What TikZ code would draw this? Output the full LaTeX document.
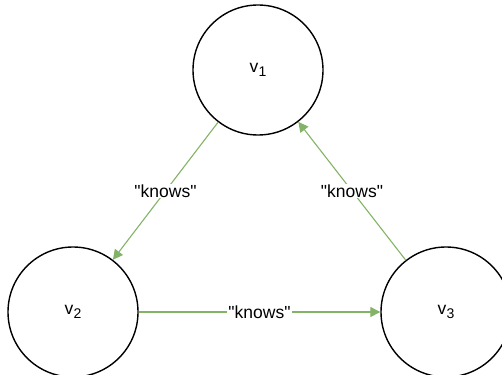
\documentclass[tikz,border=0pt]{standalone}
\usepackage{fontspec}
\setmainfont[Ligatures=TeXOff]{Liberation Sans}
\usetikzlibrary{arrows.meta}
\definecolor{edgegreen}{HTML}{82B366}
\tikzset{
  vertex/.style={circle, draw=black, line width=1.4pt, minimum size=130pt, inner sep=0pt, font=\fontsize{17.5}{17.5}\selectfont},
  rel/.style={draw=edgegreen, line width=1.1pt, -{Triangle[length=10pt,width=10pt]}},
  lbl/.style={fill=white, inner sep=1pt, font=\fontsize{17.5}{17.5}\selectfont}
}
\newcommand{\vsub}[1]{v\kern0.3pt\raisebox{-4.5pt}{\fontsize{14}{14}\selectfont #1}}
\begin{document}
\begin{tikzpicture}[x=1pt,y=-1pt]
\useasboundingbox (0,0) rectangle (502,374);
\node[vertex] (v1) at (258,70) {\vsub{1}};
\node[vertex] (v2) at (73,312) {\vsub{2}};
\node[vertex] (v3) at (446,312) {\vsub{3}};
\draw[rel] (v1) -- node[lbl] (k1) {"knows"} (v2);
\draw[rel] (v2) -- node[lbl] (k2) {"knows"} (v3);
\draw[rel] (v3) -- node[lbl] (k3) {"knows"} (v1);
\end{tikzpicture}
\end{document}
